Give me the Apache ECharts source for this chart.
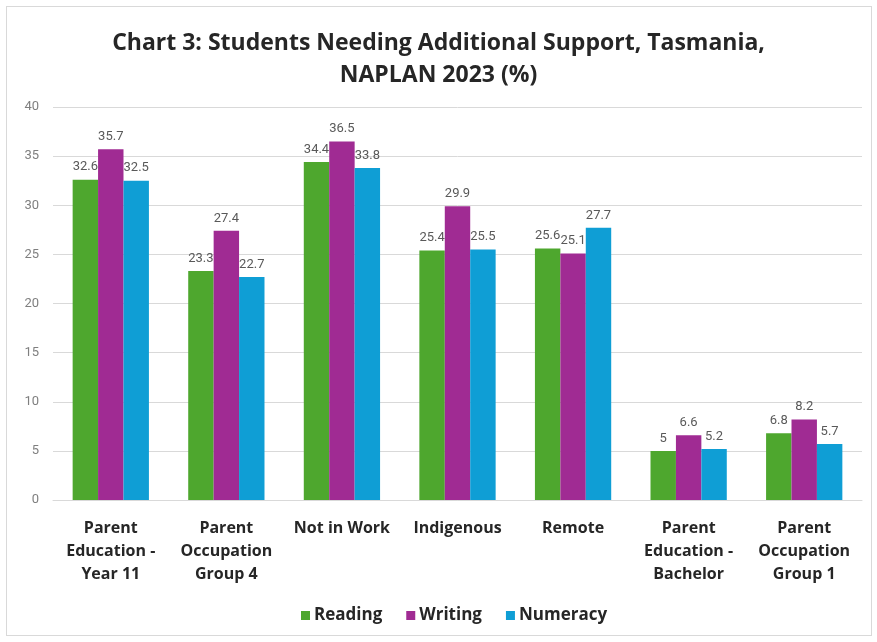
<!DOCTYPE html>
<html>
<head>
<meta charset="utf-8">
<script src="https://cdn.jsdelivr.net/npm/echarts@6/dist/echarts.min.js"></script>
<style>
  html, body { margin: 0; padding: 0; background: #ffffff; }
  #frame { position: absolute; left: 6px; top: 6px; width: 866px; height: 630px; border: 1px solid #d9d9d9; box-sizing: border-box; }
  #chart { position: absolute; left: 0; top: 0; width: 877px; height: 642px; }
</style>
</head>
<body>
<div id="frame"></div>
<div id="chart"></div>
<script>
const categories = [
  'Parent\nEducation -\nYear 11',
  'Parent\nOccupation\nGroup 4',
  'Not in Work',
  'Indigenous',
  'Remote',
  'Parent\nEducation -\nBachelor',
  'Parent\nOccupation\nGroup 1'
];
const reading  = [32.6, 23.3, 34.4, 25.4, 25.6, 5, 6.8];
const writing  = [35.7, 27.4, 36.5, 29.9, 25.1, 6.6, 8.2];
const numeracy = [32.5, 22.7, 33.8, 25.5, 27.7, 5.2, 5.7];
const yTicks = { min: 0, max: 40, interval: 5 };

const font = 'Roboto, "Liberation Sans", sans-serif';
const headFont = '"Open Sans", Roboto, sans-serif';
const labelStyle = { show: true, position: 'top', distance: 6, color: '#595959', fontSize: 13, fontFamily: font };

function bar(name, data, color) {
  return {
    name, type: 'bar', data, barGap: '0%', barCategoryGap: '34%',
    itemStyle: { color }, label: labelStyle
  };
}

const chart = echarts.init(document.getElementById('chart'));
chart.setOption({
  animation: false,
  title: {
    text: 'Chart 3: Students Needing Additional Support, Tasmania,\nNAPLAN 2023 (%)',
    left: 'center', top: 22,
    textStyle: { fontFamily: headFont, fontWeight: 'bold', fontSize: 23, color: '#262626', lineHeight: 32 }
  },
  legend: {
    bottom: 13, left: 296, itemWidth: 9, itemHeight: 9, itemGap: 24,
    icon: 'rect',
    textStyle: { fontFamily: headFont, fontWeight: 'bold', fontSize: 17, color: '#262626', padding: [0, 0, 0, -1] }
  },
  grid: { left: 53, right: 15, top: 107, bottom: 142 },
  xAxis: {
    type: 'category', data: categories,
    axisTick: { show: false },
    axisLine: { lineStyle: { color: '#d9d9d9' } },
    axisLabel: { interval: 0, margin: 17, color: '#262626', fontFamily: headFont, fontWeight: 'bold', fontSize: 16, lineHeight: 23 }
  },
  yAxis: {
    type: 'value', min: yTicks.min, max: yTicks.max, interval: yTicks.interval,
    axisLabel: { color: '#7f7f7f', fontFamily: font, fontSize: 13, margin: 14 },
    splitLine: { lineStyle: { color: '#d9d9d9' } },
    axisLine: { show: false }, axisTick: { show: false }
  },
  series: [
    bar('Reading', reading, '#4EA72E'),
    bar('Writing', writing, '#A02B93'),
    bar('Numeracy', numeracy, '#0F9ED5')
  ]
});
</script>
</body>
</html>
